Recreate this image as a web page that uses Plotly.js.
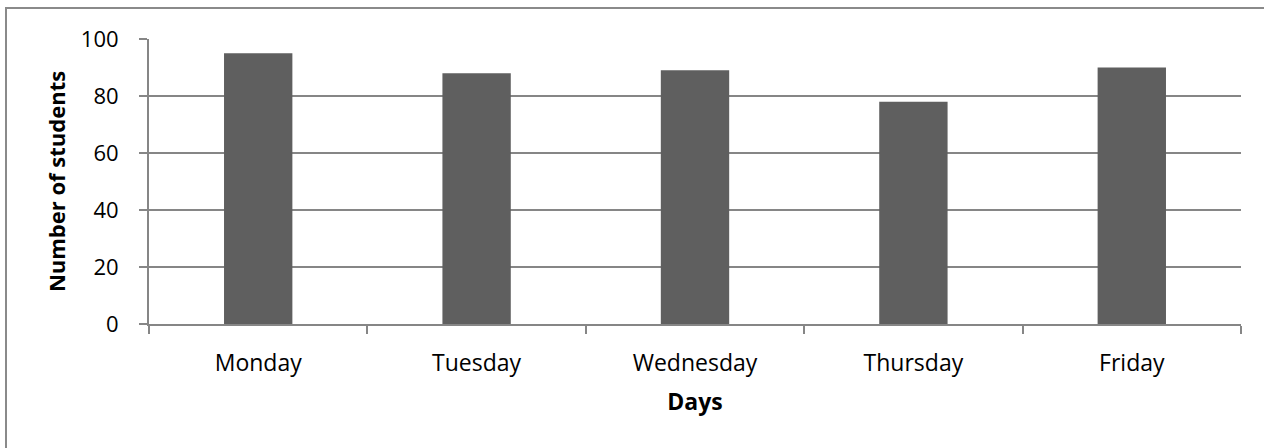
<!DOCTYPE html>
<html>
<head>
<meta charset="utf-8">
<script src="https://cdn.plot.ly/plotly-3.0.1.min.js"></script>
<style>
  html, body { margin: 0; padding: 0; background: #ffffff; overflow: hidden; }
  #frame { position: absolute; left: 5px; top: 7px; width: 1300px; height: 500px;
           border: 2px solid #8a8a8a; box-sizing: border-box; }
  #chart { position: absolute; left: 0; top: 0; width: 1264px; height: 448px; }
</style>
</head>
<body>
<div id="frame"></div>
<div id="chart"></div>
<script>
const days = ["Monday", "Tuesday", "Wednesday", "Thursday", "Friday"];
const students = [95, 88, 89, 78, 90];
const yTicks = [0, 20, 40, 60, 80, 100];

const trace = {
  type: "bar",
  x: days,
  y: students,
  marker: { color: "#5f5f5f", line: { width: 0 } },
  hoverinfo: "x+y"
};

const fontFam = "'Open Sans', 'Noto Sans', sans-serif";

const layout = {
  width: 1264,
  height: 448,
  margin: { l: 149, r: 23, t: 39, b: 124 },
  paper_bgcolor: "rgba(0,0,0,0)",
  plot_bgcolor: "rgba(0,0,0,0)",
  bargap: 0.687,
  showlegend: false,
  font: { family: fontFam, color: "#000000" },
  xaxis: {
    type: "category",
    showline: true,
    linecolor: "#868686",
    linewidth: 2,
    ticks: "outside",
    tickson: "boundaries",
    ticklen: 8,
    tickwidth: 2,
    tickcolor: "#868686",
    showgrid: false,
    tickfont: { family: fontFam, size: 23, color: "#000000" },
    ticklabelstandoff: 17,
    title: { text: "Days", font: { family: fontFam, size: 23, weight: "bold", color: "#000000" }, standoff: 17 }
  },
  yaxis: {
    range: [0, 100],
    tickvals: yTicks,
    ticktext: yTicks.map(String),
    showline: true,
    linecolor: "#868686",
    linewidth: 2,
    ticks: "outside",
    ticklen: 8,
    tickwidth: 2,
    tickcolor: "#868686",
    showgrid: true,
    gridcolor: "#868686",
    gridwidth: 2,
    zeroline: false,
    tickfont: { family: fontFam, size: 22, color: "#000000" },
    ticklabelstandoff: 16,
    title: { text: "Number of students", font: { family: fontFam, size: 22, weight: "bold", color: "#000000" }, standoff: 9 }
  }
};

Plotly.newPlot("chart", [trace], layout, { displayModeBar: false, staticPlot: true });
</script>
</body>
</html>
